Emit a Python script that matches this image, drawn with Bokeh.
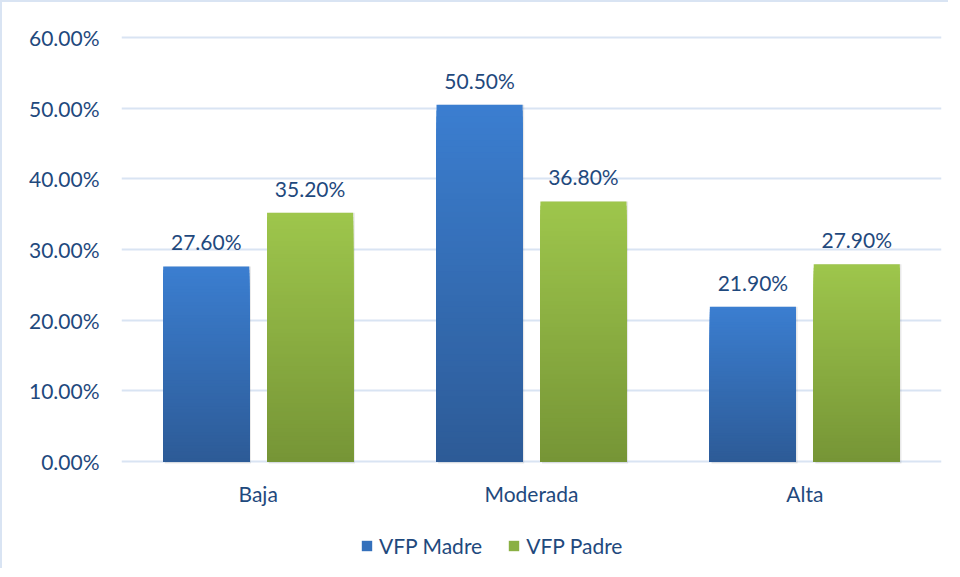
from bokeh.plotting import figure
from bokeh.models import (ColumnDataSource, FactorRange, NumeralTickFormatter, LabelSet,
                          Legend, LegendItem, FixedTicker, Range1d)
from bokeh.core.properties import value
from bokeh.transform import dodge
from bokeh.embed import file_html
from bokeh.resources import INLINE

categories = ["Baja", "Moderada", "Alta"]
series_names = ["VFP Madre", "VFP Padre"]
madre = [0.276, 0.505, 0.219]
padre = [0.352, 0.368, 0.279]
y_ticks = [0.0, 0.1, 0.2, 0.3, 0.4, 0.5, 0.6]

TEXT = "#1f497d"
FONT = "Lato"
GRID = "#d9e4f3"

def hex2rgb(h):
    h = h.lstrip("#")
    return tuple(int(h[i:i + 2], 16) for i in (0, 2, 4))

def lerp(c1, c2, t):
    a, b = hex2rgb(c1), hex2rgb(c2)
    return "#%02x%02x%02x" % tuple(int(round(a[k] + (b[k] - a[k]) * t)) for k in range(3))

def gradient_source(vals, dark, light, n=60):
    # nested bars from 0 up to a fraction of each value: tallest (lightest) first
    cats, tops, cols = [], [], []
    for i in range(n):
        f = (n - i) / n
        for c, v in zip(categories, vals):
            cats.append(c)
            tops.append(v * f)
            cols.append(lerp(dark, light, f - 0.5 / n))
    return ColumnDataSource(dict(cat=cats, top=tops, color=cols))

H, W = 568, 948
TOP_PAD = 35
ZERO_PX = 459
scale = (ZERO_PX - TOP_PAD) / 0.6
ymin = -(H - ZERO_PX) / scale
ymax = 0.6 + 2 / scale

p = figure(x_range=FactorRange(*categories), y_range=Range1d(ymin, ymax),
           width=W, height=H, output_backend="svg", toolbar_location=None,
           min_border_left=119, min_border_right=9, min_border_top=TOP_PAD - 2,
           min_border_bottom=0)
p.styles = {"border-left": f"2px solid {GRID}", "border-top": f"2px solid {GRID}"}
p.outline_line_color = None
p.background_fill_color = "white"
p.border_fill_color = "white"
p.xaxis.visible = False

p.xgrid.grid_line_color = None
p.ygrid.grid_line_color = GRID
p.ygrid.grid_line_width = 2
p.ygrid.ticker = FixedTicker(ticks=y_ticks)

p.yaxis.ticker = FixedTicker(ticks=y_ticks)
p.yaxis.formatter = NumeralTickFormatter(format="0.00%")
p.yaxis.axis_line_color = None
p.yaxis.major_tick_line_color = None
p.yaxis.minor_tick_line_color = None
p.yaxis.major_tick_out = 0
p.yaxis.major_label_text_font = FONT
p.yaxis.major_label_text_font_size = "21px"
p.yaxis.major_label_text_color = TEXT
p.yaxis.major_label_standoff = 22

off = 0.19
bw = 0.315

# subtle shadows
for vals, o in ((madre, -off), (padre, off)):
    src = ColumnDataSource(dict(cat=categories, top=vals))
    p.vbar(x=dodge("cat", o + 0.006, range=p.x_range), top="top", bottom=-0.003, width=bw,
           source=src, fill_color="#000000", fill_alpha=0.09, line_color=None)

src_m = gradient_source(madre, "#2d5b97", "#3b7ed0")
src_p = gradient_source(padre, "#769536", "#9ec64c")
p.vbar(x=dodge("cat", -off, range=p.x_range), top="top", bottom=0, width=bw,
       source=src_m, fill_color="color", line_color=None)
p.vbar(x=dodge("cat", off, range=p.x_range), top="top", bottom=0, width=bw,
       source=src_p, fill_color="color", line_color=None)

for vals, o in ((madre, -off), (padre, off)):
    lsrc = ColumnDataSource(dict(cat=categories, v=vals,
                                 txt=["%.2f%%" % (x * 100) for x in vals]))
    p.add_layout(LabelSet(x=dodge("cat", o, range=p.x_range), y="v", text="txt", source=lsrc,
                          y_offset=12, text_align="center", text_baseline="bottom",
                          text_font=value(FONT), text_font_size="21px", text_color=TEXT))

# category labels
csrc = ColumnDataSource(dict(cat=categories, y=[0.0] * len(categories)))
p.add_layout(LabelSet(x="cat", y="y", text="cat", source=csrc, y_offset=-32,
                      text_align="center", text_baseline="middle",
                      text_font=value(FONT), text_font_size="21px", text_color=TEXT))

# legend swatches (zero-height renderers used only as legend glyphs)
lm = p.vbar(x=[categories[0]], top=[0], bottom=[0], width=0.01,
            fill_color="#3470bb", line_color=None)
lp = p.vbar(x=[categories[0]], top=[0], bottom=[0], width=0.01,
            fill_color="#8ab043", line_color=None)
legend = Legend(items=[LegendItem(label=series_names[0], renderers=[lm]),
                       LegendItem(label=series_names[1], renderers=[lp])],
                orientation="horizontal", location=(239, 12),
                label_text_font=FONT, label_text_font_size="21px", label_text_color=TEXT,
                border_line_color=None, background_fill_alpha=0,
                glyph_width=13, glyph_height=13, label_standoff=6, spacing=25,
                margin=0, padding=0)
p.add_layout(legend, "center")

open("out.html", "w").write(file_html(p, INLINE))
